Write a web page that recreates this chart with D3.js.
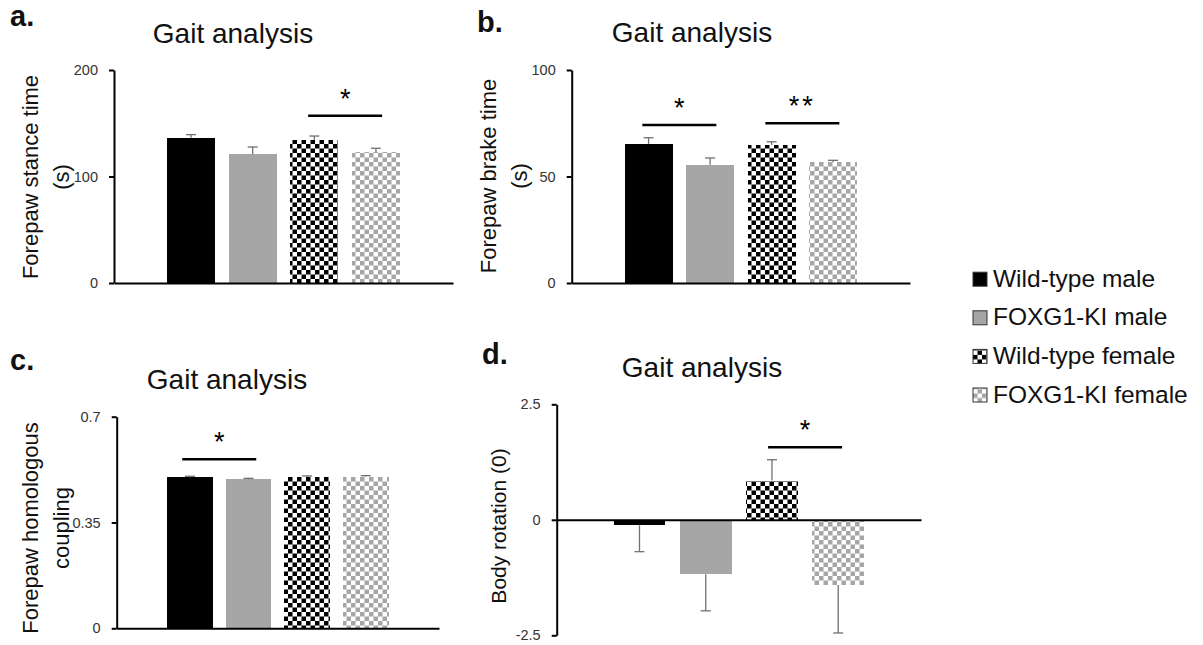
<!DOCTYPE html>
<html>
<head>
<meta charset="utf-8">
<script src="https://cdn.jsdelivr.net/npm/d3@7"></script>
<style>
  body { margin: 0; background: #fff; }
  svg { display: block; font-family: "Liberation Sans", Arial, sans-serif; }
</style>
</head>
<body>
<div id="chart"></div>
<script>
// groups, in bar order
var groups = ["Wild-type male", "FOXG1-KI male", "Wild-type female", "FOXG1-KI female"];

// a. forepaw stance time (s)
var stanceMean = [136.4, 120.8, 134.3, 122.7];
var stanceErr = [2.9, 6.9, 3.7, 3.8];
var stanceTicks = [0, 100, 200];
var stanceSig = [{ pair: [2, 3], level: 157, mark: "*" }];

// b. forepaw brake time (s)
var brakeMean = [65.3, 55.5, 64.8, 56.7];
var brakeErr = [2.9, 3.2, 1.5, 0.9];
var brakeTicks = [0, 50, 100];
var brakeSig = [{ pair: [0, 1], level: 74.2, mark: "*" }, { pair: [2, 3], level: 75, mark: "**" }];

// c. forepaw homologous coupling
var couplingMean = [0.500, 0.493, 0.501, 0.502];
var couplingErr = [0.003, 0.003, 0.003, 0.003];
var couplingTicks = [0, 0.35, 0.7];
var couplingSig = [{ pair: [0, 1], level: 0.559, mark: "*" }];

// d. body rotation
var rotationMean = [-0.12, -1.18, 0.85, -1.41];
var rotationErr = [0.57, 0.79, 0.45, 1.04];
var rotationTicks = [-2.5, 0, 2.5];
var rotationSig = [{ pair: [2, 3], level: 1.57, mark: "*" }];

var fills = ["#000000", "#a6a6a6", "url(#chkBlack)", "url(#chkGrey)"];

var panels = [
    { tag: "a.", tagPos: [10, 26], title: [233, 42.5], means: stanceMean, errs: stanceErr, ticks: stanceTicks, sig: stanceSig,
      x0: 114, x1: 453, yTop: 70, yBot: 283, label: ["Forepaw stance time", "(s)"], labelX: 38, labelY: 177, labelSize: 22 },
    { tag: "b.", tagPos: [477, 31.5], title: [692, 42], means: brakeMean, errs: brakeErr, ticks: brakeTicks, sig: brakeSig,
      x0: 571.7, x1: 910, yTop: 70, yBot: 283, label: ["Forepaw brake time", "(s)"], labelX: 496, labelY: 176, labelSize: 22 },
    { tag: "c.", tagPos: [10, 370], title: [227, 388.5], means: couplingMean, errs: couplingErr, ticks: couplingTicks, sig: couplingSig,
      x0: 116.7, x1: 439, yTop: 416.7, yBot: 628.3, label: ["Forepaw homologous", "coupling"], labelX: 38, labelY: 528, labelSize: 22 },
    { tag: "d.", tagPos: [482, 363.5], title: [702, 377], means: rotationMean, errs: rotationErr, ticks: rotationTicks, sig: rotationSig,
      x0: 556.7, x1: 921, yTop: 404.3, yBot: 635.3, label: ["Body rotation (0)"], labelX: 506, labelY: 526, labelSize: 21 }
];

var svg = d3.select("#chart").append("svg")
    .attr("width", 1203)
    .attr("height", 645);

var defs = svg.append("defs");
function checker(id, color) {
    var c = 4.5;
    var p = defs.append("pattern")
        .attr("id", id)
        .attr("patternUnits", "userSpaceOnUse")
        .attr("width", c * 2)
        .attr("height", c * 2);
    p.append("rect").attr("width", c * 2).attr("height", c * 2).attr("fill", "#fff");
    p.append("rect").attr("width", c).attr("height", c).attr("fill", color);
    p.append("rect").attr("x", c).attr("y", c).attr("width", c).attr("height", c).attr("fill", color);
}
checker("chkBlack", "#000");
checker("chkGrey", "#a6a6a6");

panels.forEach(function(p) {
    var x = d3.scaleBand()
        .domain(groups)
        .range([p.x0, p.x1])
        .paddingInner(0.22)
        .paddingOuter(0.86);
    var y = d3.scaleLinear()
        .domain(d3.extent(p.ticks))
        .range([p.yBot, p.yTop]);

    var g = svg.append("g");

    // bars
    g.selectAll("rect.bar").data(p.means).enter().append("rect")
        .attr("class", "bar")
        .attr("x", function(d, i) { return x(groups[i]); })
        .attr("width", x.bandwidth())
        .attr("y", function(d) { return Math.min(y(d), y(0)); })
        .attr("height", function(d) { return Math.abs(y(d) - y(0)); })
        .attr("fill", function(d, i) { return fills[i]; })
        .attr("shape-rendering", "crispEdges");

    // error bars, one side only (away from zero)
    var eb = g.selectAll("g.err").data(p.means).enter().append("g").attr("class", "err");
    eb.append("line")
        .attr("x1", function(d, i) { return x(groups[i]) + x.bandwidth() / 2; })
        .attr("x2", function(d, i) { return x(groups[i]) + x.bandwidth() / 2; })
        .attr("y1", function(d) { return y(d); })
        .attr("y2", function(d, i) { return y(d + (d < 0 ? -1 : 1) * p.errs[i]); })
        .attr("stroke", "#707070")
        .attr("stroke-width", 1.3);
    eb.append("line")
        .attr("x1", function(d, i) { return x(groups[i]) + x.bandwidth() / 2 - 5; })
        .attr("x2", function(d, i) { return x(groups[i]) + x.bandwidth() / 2 + 5; })
        .attr("y1", function(d, i) { return y(d + (d < 0 ? -1 : 1) * p.errs[i]); })
        .attr("y2", function(d, i) { return y(d + (d < 0 ? -1 : 1) * p.errs[i]); })
        .attr("stroke", "#707070")
        .attr("stroke-width", 1.3);

    // x axis (line at zero, no ticks)
    var xa = g.append("g")
        .attr("transform", "translate(0," + y(0) + ")")
        .call(d3.axisBottom(x).tickSize(0).tickSizeOuter(0).tickFormat(""));
    xa.select(".domain").attr("stroke", "#000").attr("stroke-width", 2);

    // y axis
    var ya = g.append("g")
        .attr("transform", "translate(" + p.x0 + ",0)")
        .call(d3.axisLeft(y).tickValues(p.ticks).tickSize(5).tickSizeOuter(0).tickPadding(11)
            .tickFormat(function(d) { return String(d); }));
    ya.select(".domain").attr("stroke", "#000").attr("stroke-width", 2);
    ya.selectAll(".tick line").attr("stroke", "#000").attr("stroke-width", 2);
    ya.selectAll(".tick text")
        .attr("fill", "#333")
        .style("font-size", "14.5px")
        .style("font-family", "'Liberation Sans', Arial, sans-serif");

    // significance bars
    p.sig.forEach(function(s) {
        var cx = (x(groups[s.pair[0]]) + x(groups[s.pair[1]]) + x.bandwidth()) / 2;
        g.append("line")
            .attr("x1", cx - 37).attr("x2", cx + 37)
            .attr("y1", y(s.level)).attr("y2", y(s.level))
            .attr("stroke", "#000")
            .attr("stroke-width", 2.5);
        g.append("text")
            .attr("x", cx)
            .attr("y", y(s.level) - 8)
            .attr("text-anchor", "middle")
            .attr("letter-spacing", s.mark.length > 1 ? "3px" : null)
            .style("font-size", "27px")
            .attr("fill", "#000")
            .text(s.mark);
    });

    // y label
    var lab = g.append("text")
        .attr("transform", "translate(" + p.labelX + "," + p.labelY + ") rotate(-90)")
        .attr("text-anchor", "middle")
        .style("font-size", p.labelSize + "px")
        .attr("fill", "#111");
    p.label.forEach(function(t, i) {
        lab.append("tspan").attr("x", 0).attr("y", i * 31).text(t);
    });

    // title and panel tag
    g.append("text")
        .attr("x", p.title[0]).attr("y", p.title[1])
        .attr("text-anchor", "middle")
        .style("font-size", "28px")
        .attr("fill", "#111")
        .text("Gait analysis");
    g.append("text")
        .attr("x", p.tagPos[0]).attr("y", p.tagPos[1])
        .style("font-size", "29px")
        .style("font-weight", "bold")
        .attr("fill", "#111")
        .text(p.tag);
});

// legend
var legend = svg.append("g").attr("transform", "translate(973,286.7)");
var item = legend.selectAll("g").data(groups).enter().append("g")
    .attr("transform", function(d, i) { return "translate(0," + (i * 38.6) + ")"; });
item.append("rect")
    .attr("x", 0).attr("y", -14.5)
    .attr("width", 14).attr("height", 14)
    .attr("fill", function(d, i) { return fills[i]; })
    .attr("stroke", "#333")
    .attr("stroke-width", 1);
item.append("text")
    .attr("x", 20).attr("y", 0)
    .style("font-size", "24.5px")
    .attr("fill", "#111")
    .text(function(d) { return d; });
</script>
</body>
</html>
